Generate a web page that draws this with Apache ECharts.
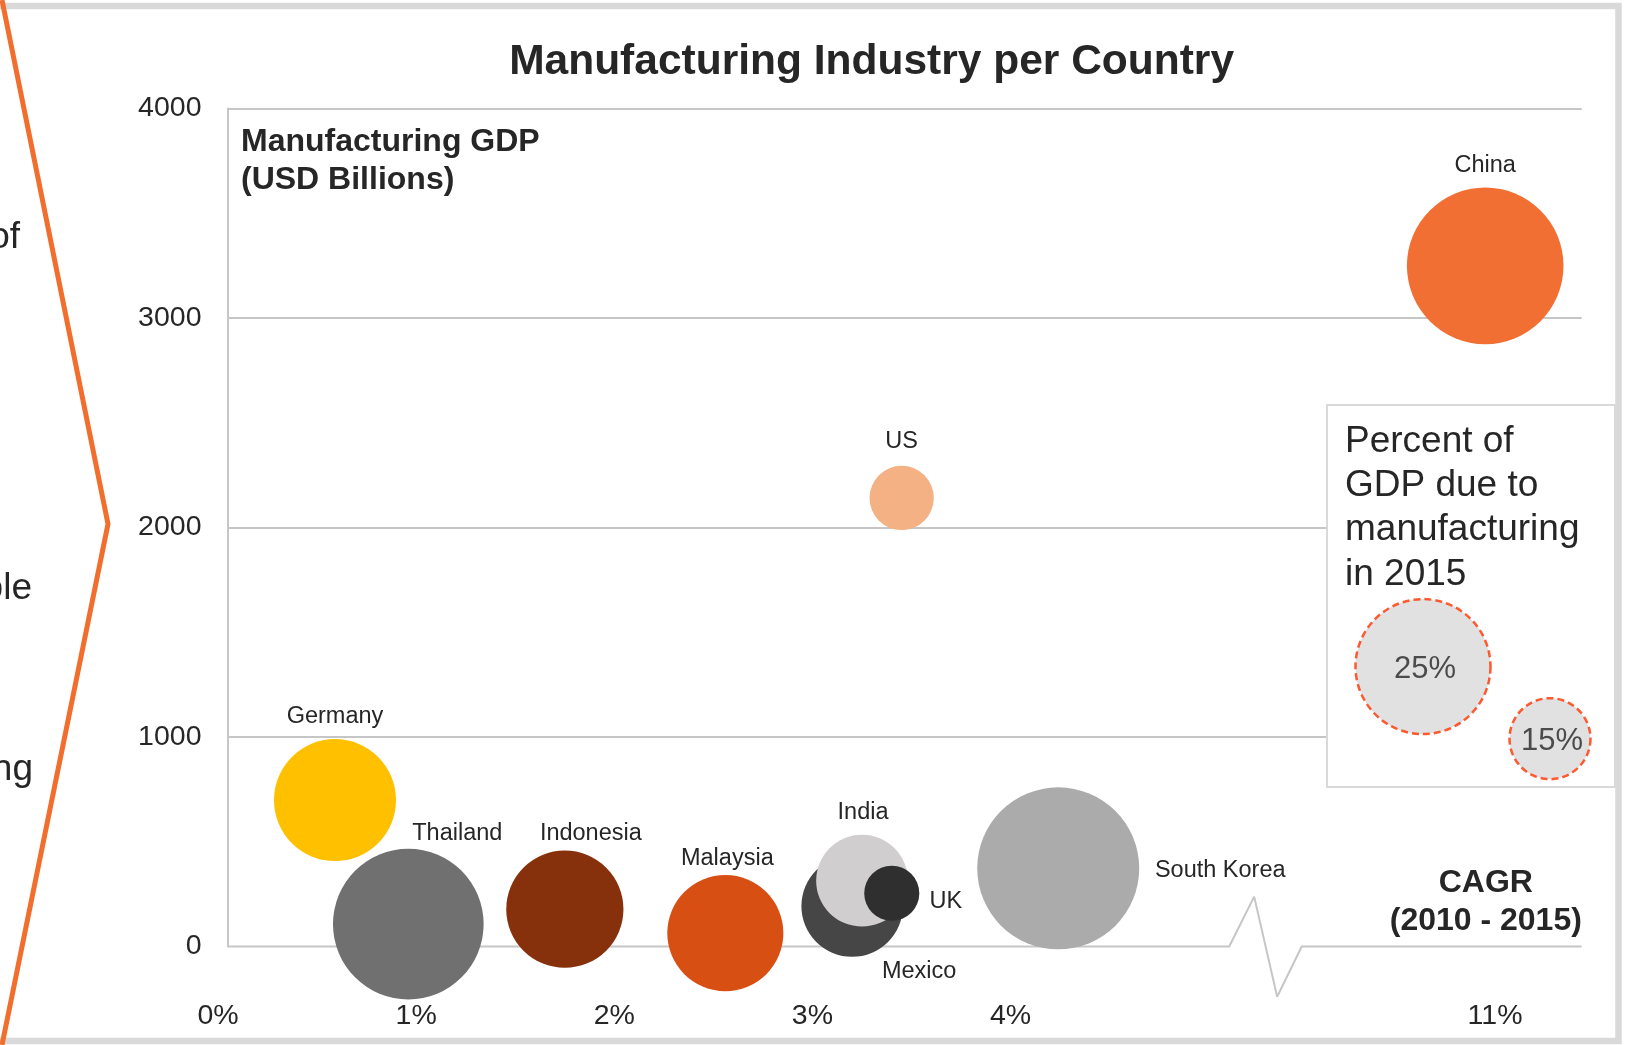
<!DOCTYPE html>
<html>
<head>
<meta charset="utf-8">
<title>Manufacturing Industry per Country</title>
<script src="https://cdn.jsdelivr.net/npm/echarts@6/dist/echarts.min.js"></script>
<style>
  html, body { margin: 0; padding: 0; background: #fff; }
  #chart { width: 1627px; height: 1045px; }
</style>
</head>
<body>
<div id="chart"></div>
<script>
// data
const countries = ['Germany', 'Thailand', 'Indonesia', 'Malaysia', 'Mexico', 'India', 'UK', 'South Korea', 'US', 'China'];
const cagr = [0.54, 0.91, 1.70, 2.51, 3.15, 3.20, 3.35, 4.19, 3.40, 10.9];      // % 2010-2015
const mfgGdp = [699, 107, 178, 64, 193, 314, 254, 373, 2141, 3249];             // USD billions
const mfgShare = [22.6, 27.9, 21.7, 21.5, 18.8, 17.0, 10.2, 30.0, 11.9, 29.0];  // % of GDP in 2015
const xTickValues = [0, 1, 2, 3, 4, 11];
const yTickValues = [0, 1000, 2000, 3000, 4000];
const sizeKey = [25, 15];

// styling
const colors = ['#FFC000', '#707070', '#86300C', '#D84F13', '#464646', '#D0CECE', '#2F2F2F', '#ABABAB', '#F4B183', '#F16F33'];
const labelOffsets = {
  'Germany': [0, -84], 'Thailand': [49, -91], 'Indonesia': [26, -76], 'Malaysia': [2, -75],
  'Mexico': [67, 65], 'India': [1, -68], 'UK': [54, 8], 'South Korea': [162, 2],
  'US': [0, -56], 'China': [0, -100]
};
const FONT = '"Liberation Sans", Arial, sans-serif';
const TEXT = '#262626';
const GRID_COLOR = '#c6c6c6';

// broken x axis: 0-4% linear, then jump so that 11% sits near the right edge
const BREAK_AT = 5;
const BREAK_SHIFT = 4.555;
const toAxis = v => (v > BREAK_AT ? v - BREAK_SHIFT : v);
const X_MAX = 6.832;
// axis line with the zigzag, in axis units
const breakPath = [[0, 0], [5.053, 0], [5.179, 238], [5.295, -240], [5.419, 0], [X_MAX, 0]];
// where the size key bubbles sit (axis units)
const keyAt = [[6.031, 1336], [6.672, 992]];

const sizeOf = share => share * 5.4;

const chart = echarts.init(document.getElementById('chart'));

const bubbles = countries.map((name, i) => ({
  name: name,
  value: [toAxis(cagr[i]), mfgGdp[i], mfgShare[i]],
  itemStyle: { color: colors[i] },
  label: { offset: labelOffsets[name] }
}));

const keyData = sizeKey.map((s, i) => ({ value: [keyAt[i][0], keyAt[i][1], s] }));

function textEl(text, x, y, font, align, extra) {
  return Object.assign({
    type: 'text', z: 50, silent: true,
    style: {
      text: text, x: x, y: y, font: font, fill: TEXT,
      align: align, textAlign: align, verticalAlign: 'middle', textVerticalAlign: 'middle'
    }
  }, extra || {});
}

const option = {
  backgroundColor: '#ffffff',
  animation: false,
  grid: { left: 228, right: 45.3, top: 108.5, bottom: 98.5 },
  xAxis: {
    type: 'value',
    min: 0,
    max: X_MAX,
    axisLine: { show: false },
    axisTick: { show: false },
    splitLine: { show: false },
    axisLabel: {
      customValues: xTickValues.map(toAxis),
      formatter: function (v) {
        const idx = xTickValues.map(toAxis).findIndex(t => Math.abs(t - v) < 1e-6);
        return (idx >= 0 ? xTickValues[idx] : Math.round(v)) + '%';
      },
      margin: 55,
      padding: [0, 20, 0, 0],
      fontSize: 28.5,
      fontFamily: FONT,
      color: TEXT
    }
  },
  yAxis: {
    type: 'value',
    min: yTickValues[0],
    max: yTickValues[yTickValues.length - 1],
    interval: 1000,
    axisLine: { show: true, lineStyle: { color: GRID_COLOR, width: 2 } },
    axisTick: { show: false },
    splitLine: { show: true, showMinLine: false, lineStyle: { color: GRID_COLOR, width: 2 } },
    axisLabel: {
      formatter: v => String(v),
      margin: 26.5,
      padding: [8, 0, 0, 0],
      fontSize: 28.5,
      fontFamily: FONT,
      color: TEXT
    }
  },
  series: [
    {
      type: 'line',
      data: breakPath,
      symbol: 'none',
      silent: true,
      clip: false,
      z: 1,
      lineStyle: { color: GRID_COLOR, width: 2 }
    },
    {
      type: 'scatter',
      data: bubbles,
      symbolSize: val => sizeOf(val[2]),
      silent: true,
      z: 3,
      itemStyle: { opacity: 1 },
      label: {
        show: true,
        position: 'inside',
        formatter: '{b}',
        fontSize: 23.5,
        fontFamily: FONT,
        color: TEXT
      }
    },
    {
      type: 'scatter',
      data: keyData,
      symbolSize: val => sizeOf(val[2]),
      silent: true,
      z: 20,
      itemStyle: {
        color: '#d9d9d9',
        borderColor: '#ff3300',
        borderWidth: 2.5,
        borderType: [7, 4]
      },
      label: {
        show: true,
        position: 'inside',
        offset: [2, 3],
        formatter: p => p.value[2] + '%',
        fontSize: 31,
        fontFamily: FONT,
        color: TEXT
      }
    }
  ],
  graphic: [
    // outer frame
    {
      type: 'rect', z: 50, silent: true,
      shape: { x: -10, y: 6, width: 1628.5, height: 1035 },
      style: { fill: 'none', stroke: '#d9d9d9', lineWidth: 6.5 }
    },
    // orange chevron of the surrounding slide
    {
      type: 'polyline', z: 50, silent: true,
      shape: { points: [[2, 0], [108, 524], [2, 1045]] },
      style: { fill: 'none', stroke: '#F26E2E', lineWidth: 5 }
    },
    textEl('of', 20, 238, '37px ' + FONT, 'right'),
    textEl('ple', 32, 589, '37px ' + FONT, 'right'),
    textEl('ng', 33, 770, '37px ' + FONT, 'right'),
    // title
    textEl('Manufacturing Industry per Country', 871.6, 62, 'bold 42.5px ' + FONT, 'center'),
    // y axis name
    {
      type: 'text', z: 50, silent: true,
      style: {
        text: 'Manufacturing GDP\n(USD Billions)', x: 241, y: 161,
        font: 'bold 32px ' + FONT, lineHeight: 37.5, fill: TEXT,
        align: 'left', textAlign: 'left', verticalAlign: 'middle', textVerticalAlign: 'middle'
      }
    },
    // x axis name
    {
      type: 'text', z: 50, silent: true,
      style: {
        text: 'CAGR\n(2010 - 2015)', x: 1485.8, y: 902,
        font: 'bold 32px ' + FONT, lineHeight: 37.5, fill: TEXT,
        align: 'center', textAlign: 'center', verticalAlign: 'middle', textVerticalAlign: 'middle'
      }
    },
    // size key box
    {
      type: 'rect', z: 10, silent: true,
      shape: { x: 1327, y: 405, width: 288, height: 382 },
      style: { fill: '#ffffff', stroke: '#d9d9d9', lineWidth: 2 }
    },
    {
      type: 'text', z: 30, silent: true,
      style: {
        text: 'Percent of\nGDP due to\nmanufacturing\nin 2015', x: 1345, y: 508,
        font: '37px ' + FONT, lineHeight: 44.3, fill: TEXT,
        align: 'left', textAlign: 'left', verticalAlign: 'middle', textVerticalAlign: 'middle'
      }
    }
  ]
};

chart.setOption(option);
</script>
</body>
</html>
